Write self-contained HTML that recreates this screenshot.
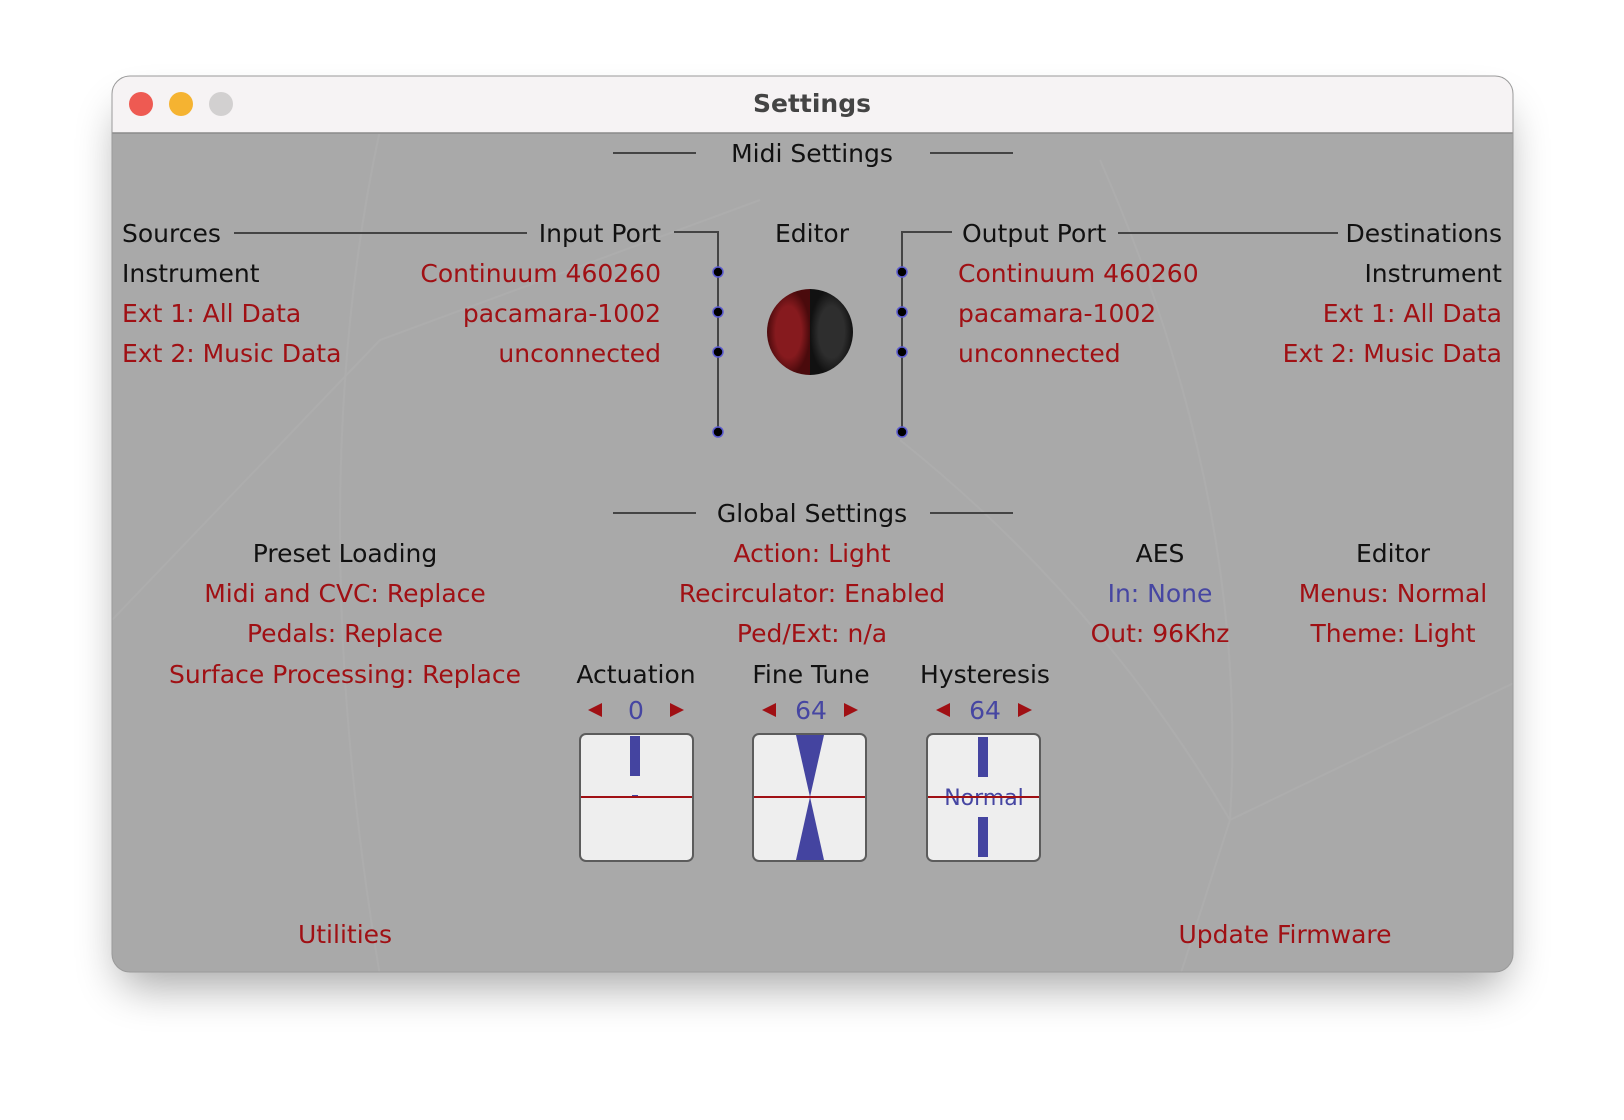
<!DOCTYPE html>
<html><head><meta charset="utf-8"><style>
html,body{margin:0;padding:0;background:#fff;width:1624px;height:1120px;overflow:hidden}
svg{display:block}
text{font-family:"DejaVu Sans","Liberation Sans",sans-serif;font-size:25px}
.k{fill:#111}.r{fill:#a01014}.b{fill:#4646a2}
</style></head><body>
<svg width="1624" height="1120" viewBox="0 0 1624 1120">
<defs>
<filter id="sh" x="-10%" y="-10%" width="120%" height="130%"><feGaussianBlur stdDeviation="22"/></filter>
<radialGradient id="gr" cx="0.5" cy="0.5" r="0.5"><stop offset="0.6" stop-color="#861a1e"/><stop offset="1" stop-color="#4a0a0c"/></radialGradient>
<radialGradient id="gb" cx="0.5" cy="0.5" r="0.5"><stop offset="0.6" stop-color="#2e2e2e"/><stop offset="1" stop-color="#111"/></radialGradient>
<clipPath id="win"><rect x="112" y="76" width="1401" height="896" rx="18"/></clipPath>
</defs>
<rect x="120" y="110" width="1385" height="876" rx="18" fill="#000" opacity="0.35" filter="url(#sh)"/>
<g clip-path="url(#win)">
<rect x="112" y="76" width="1401" height="896" fill="#a9a9a9"/>
<g stroke="#b4b4b4" stroke-width="2" fill="none" opacity="0.4">
<path d="M380 130 Q300 500 380 976"/>
<path d="M112 620 L380 340 L760 200"/>
<path d="M1100 160 Q1250 500 1230 820"/>
<path d="M1230 820 L1520 680"/>
<path d="M1230 820 L1180 976"/>
<path d="M900 440 Q1100 600 1230 820"/>
</g>
<rect x="112" y="76" width="1401" height="57" fill="#f6f3f4"/>
<line x1="112" y1="133" x2="1513" y2="133" stroke="#8a8a8a" stroke-width="1.5"/>
</g>
<rect x="112" y="76" width="1401" height="896" rx="18" fill="none" stroke="#9a9a9a" stroke-width="1"/>
<circle cx="141" cy="104" r="12" fill="#ee5a52"/>
<circle cx="181" cy="104" r="12" fill="#f5b331"/>
<circle cx="221" cy="104" r="12" fill="#d2d0d0"/>
<text x="812" y="112" text-anchor="middle" style="font-weight:bold;font-size:25px" fill="#444">Settings</text>

<g stroke="#444" stroke-width="2" fill="none">
<line x1="613" y1="153" x2="696" y2="153"/><line x1="930" y1="153" x2="1013" y2="153"/>
<line x1="613" y1="513" x2="696" y2="513"/><line x1="930" y1="513" x2="1013" y2="513"/>
<line x1="234" y1="233" x2="527" y2="233"/>
<line x1="1118" y1="233" x2="1338" y2="233"/>
<polyline points="674,232 718,232 718,432"/>
<polyline points="952,232 902,232 902,432"/>
</g>
<g fill="#000" stroke="#5a5ad0" stroke-width="1.5">
<circle cx="718" cy="272" r="5"/><circle cx="718" cy="312" r="5"/><circle cx="718" cy="352" r="5"/><circle cx="718" cy="432" r="5"/>
<circle cx="902" cy="272" r="5"/><circle cx="902" cy="312" r="5"/><circle cx="902" cy="352" r="5"/><circle cx="902" cy="432" r="5"/>
</g>
<path d="M810 289 A43 43 0 0 0 810 375 Z" fill="url(#gr)"/>
<path d="M810 289 A43 43 0 0 1 810 375 Z" fill="url(#gb)"/>

<text x="812" y="162" text-anchor="middle" class="k">Midi Settings</text>
<text x="122" y="242" class="k">Sources</text>
<text x="661" y="242" text-anchor="end" class="k">Input Port</text>
<text x="812" y="242" text-anchor="middle" class="k">Editor</text>
<text x="962" y="242" class="k">Output Port</text>
<text x="1502" y="242" text-anchor="end" class="k">Destinations</text>
<text x="122" y="282" class="k">Instrument</text>
<text x="122" y="322" class="r">Ext 1: All Data</text>
<text x="122" y="362" class="r">Ext 2: Music Data</text>
<text x="661" y="282" text-anchor="end" class="r">Continuum 460260</text>
<text x="661" y="322" text-anchor="end" class="r">pacamara-1002</text>
<text x="661" y="362" text-anchor="end" class="r">unconnected</text>
<text x="958" y="282" class="r">Continuum 460260</text>
<text x="958" y="322" class="r">pacamara-1002</text>
<text x="958" y="362" class="r">unconnected</text>
<text x="1502" y="282" text-anchor="end" class="k">Instrument</text>
<text x="1502" y="322" text-anchor="end" class="r">Ext 1: All Data</text>
<text x="1502" y="362" text-anchor="end" class="r">Ext 2: Music Data</text>

<text x="812" y="522" text-anchor="middle" class="k">Global Settings</text>
<text x="345" y="562" text-anchor="middle" class="k">Preset Loading</text>
<text x="345" y="602" text-anchor="middle" class="r">Midi and CVC: Replace</text>
<text x="345" y="642" text-anchor="middle" class="r">Pedals: Replace</text>
<text x="345" y="683" text-anchor="middle" class="r">Surface Processing: Replace</text>
<text x="812" y="562" text-anchor="middle" class="r">Action: Light</text>
<text x="812" y="602" text-anchor="middle" class="r">Recirculator: Enabled</text>
<text x="812" y="642" text-anchor="middle" class="r">Ped/Ext: n/a</text>
<text x="1160" y="562" text-anchor="middle" class="k">AES</text>
<text x="1160" y="602" text-anchor="middle" class="b">In: None</text>
<text x="1160" y="642" text-anchor="middle" class="r">Out: 96Khz</text>
<text x="1393" y="562" text-anchor="middle" class="k">Editor</text>
<text x="1393" y="602" text-anchor="middle" class="r">Menus: Normal</text>
<text x="1393" y="642" text-anchor="middle" class="r">Theme: Light</text>

<text x="636" y="683" text-anchor="middle" class="k">Actuation</text>
<text x="811" y="683" text-anchor="middle" class="k">Fine Tune</text>
<text x="985" y="683" text-anchor="middle" class="k">Hysteresis</text>
<g fill="#a01014">
<polygon points="588,710 602,703 602,717"/><polygon points="684,710 670,703 670,717"/>
<polygon points="762,710 776,703 776,717"/><polygon points="858,710 844,703 844,717"/>
<polygon points="936,710 950,703 950,717"/><polygon points="1032,710 1018,703 1018,717"/>
</g>
<text x="636" y="719" text-anchor="middle" class="b">0</text>
<text x="811" y="719" text-anchor="middle" class="b">64</text>
<text x="985" y="719" text-anchor="middle" class="b">64</text>

<g fill="#eeeeee" stroke="#5c5c5c" stroke-width="2">
<rect x="580" y="734" width="113" height="127" rx="6"/>
<rect x="753" y="734" width="113" height="127" rx="6"/>
<rect x="927" y="734" width="113" height="127" rx="6"/>
</g>
<g fill="#4444a0">
<rect x="630" y="736" width="10" height="40"/>
<rect x="632" y="795" width="6" height="2"/>
<polygon points="796,735 824,735 810,797"/>
<polygon points="796,860 824,860 810,797"/>
<rect x="978" y="737" width="10" height="40"/>
<rect x="978" y="817" width="10" height="40"/>
</g>
<text x="984" y="805" text-anchor="middle" class="b" style="font-size:22px">Normal</text>
<g stroke="#a01014" stroke-width="2">
<line x1="581" y1="797" x2="692" y2="797"/>
<line x1="754" y1="797" x2="865" y2="797"/>
<line x1="928" y1="797" x2="1039" y2="797"/>
</g>
<text x="345" y="943" text-anchor="middle" class="r">Utilities</text>
<text x="1285" y="943" text-anchor="middle" class="r">Update Firmware</text>
</svg>
</body></html>
